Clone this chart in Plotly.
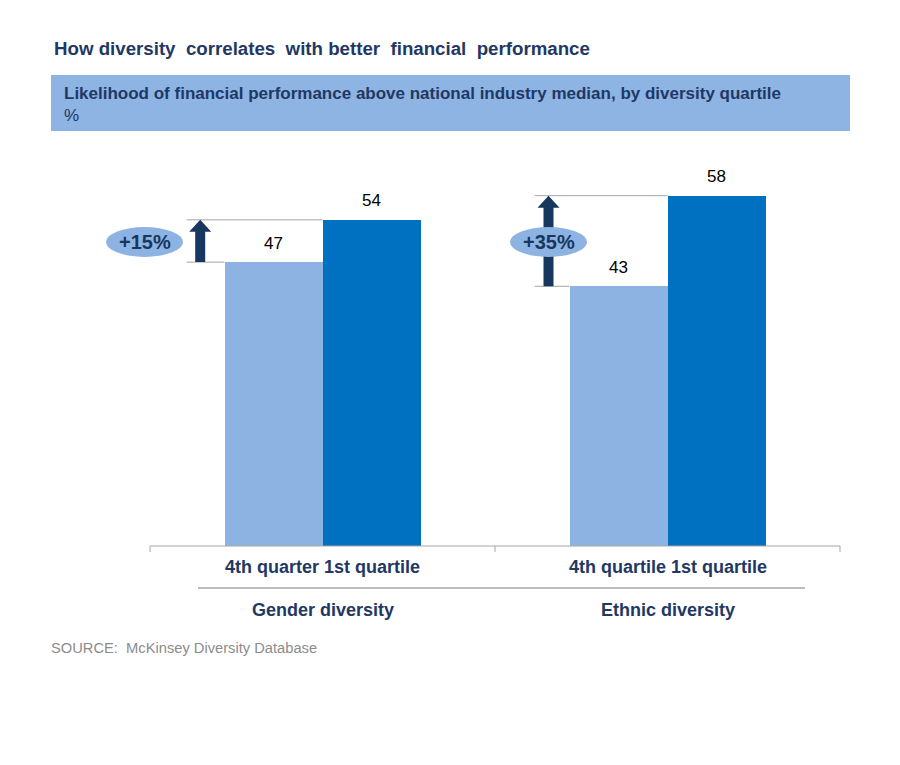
import plotly.graph_objects as go

# ---- data ----
groups = ["Gender diversity", "Ethnic diversity"]
quartile_labels = ["4th quarter 1st quartile", "4th quartile 1st quartile"]
bottom_quartile = [47, 43]
top_quartile = [54, 58]
uplift_labels = ["+15%", "+35%"]

title = "How diversity  correlates  with better  financial  performance"
subtitle_1 = "Likelihood of financial performance above national industry median, by diversity quartile"
subtitle_2 = "%"
source = "SOURCE:  McKinsey Diversity Database"

# ---- styling ----
W, H = 900, 765
LIGHT = "#8DB3E2"
DARK = "#0070C0"
NAVY = "#17375E"
TXT = "#1F3864"
GREY = "#A6A6A6"
FONT = "Liberation Sans, Arial, sans-serif"

# pixel geometry -> axis ranges (x: 0 at px150, 2 at px840; y: 0 at px546)
px_per_x = 345.0
px_per_y = 6.04
x_range = [-150 / px_per_x, (W - 150) / px_per_x]
y_range = [-(H - 546) / px_per_y, 546 / px_per_y]

bw = 98 / px_per_x  # bar width in x units
centers = [0.5 + i for i in range(len(groups))]

fig = go.Figure()
fig.add_trace(go.Bar(x=centers, y=bottom_quartile, width=bw, offset=-bw,
                     marker=dict(color=LIGHT, line=dict(width=0)),
                     name="4th quartile", hoverinfo="y"))
fig.add_trace(go.Bar(x=centers, y=top_quartile, width=bw, offset=0,
                     marker=dict(color=DARK, line=dict(width=0)),
                     name="1st quartile", hoverinfo="y"))

shapes = []
annotations = []

def dx(px):
    return px / px_per_x

def dy(px):
    return px / px_per_y

# axis baseline and ticks
shapes.append(dict(type="line", xref="x", yref="y", x0=0, x1=2, y0=0, y1=0,
                   line=dict(color=GREY, width=1)))
for t in [0, 1, 2]:
    shapes.append(dict(type="line", xref="x", yref="y", x0=t, x1=t, y0=0, y1=-dy(6),
                       line=dict(color=GREY, width=1)))

arrow_off = [dx(200.7 - 323), dx(549 - 668)]
ell_off = [dx(145 - 323), dx(549 - 668)]
line_left = [dx(187 - 323), dx(535 - 668)]

for i, c in enumerate(centers):
    lo, hi = bottom_quartile[i], top_quartile[i]
    # bracket lines
    shapes.append(dict(type="line", xref="x", yref="y", x0=c + line_left[i], x1=c,
                       y0=hi, y1=hi, line=dict(color=GREY, width=1)))
    shapes.append(dict(type="line", xref="x", yref="y", x0=c + line_left[i], x1=c - bw,
                       y0=lo, y1=lo, line=dict(color=GREY, width=1)))
    # arrow
    ax = c + arrow_off[i]
    sw = dx(5)
    hw = dx(11)
    hh = dy(12)
    path = (f"M {ax - sw},{lo} L {ax + sw},{lo} L {ax + sw},{hi - hh} L {ax + hw},{hi - hh} "
            f"L {ax},{hi} L {ax - hw},{hi - hh} L {ax - sw},{hi - hh} Z")
    shapes.append(dict(type="path", xref="x", yref="y", path=path,
                       fillcolor=NAVY, line=dict(width=0)))
    # ellipse
    ex = c + ell_off[i]
    ey = dy(546 - 242)
    shapes.append(dict(type="circle", xref="x", yref="y",
                       x0=ex - dx(38.5), x1=ex + dx(38.5),
                       y0=ey - dy(15), y1=ey + dy(15),
                       fillcolor=LIGHT, line=dict(width=0)))
    annotations.append(dict(x=ex, y=ey, xref="x", yref="y", text=f"<b>{uplift_labels[i]}</b>",
                            showarrow=False, font=dict(family=FONT, size=20, color=NAVY)))
    # value labels
    annotations.append(dict(x=c - bw / 2, y=lo, xref="x", yref="y", text=str(lo),
                            showarrow=False, yshift=19, font=dict(family=FONT, size=17, color="#000000")))
    annotations.append(dict(x=c + bw / 2, y=hi, xref="x", yref="y", text=str(hi),
                            showarrow=False, yshift=19, font=dict(family=FONT, size=17, color="#000000")))
    # category labels
    annotations.append(dict(x=c, y=-dy(567 - 546), xref="x", yref="y",
                            text=f"<b>{quartile_labels[i]}</b>", showarrow=False,
                            font=dict(family=FONT, size=18, color=TXT)))
    annotations.append(dict(x=c, y=-dy(610 - 546), xref="x", yref="y",
                            text=f"<b>{groups[i]}</b>", showarrow=False,
                            font=dict(family=FONT, size=18, color=TXT)))

# separator line under quartile labels
shapes.append(dict(type="line", xref="paper", yref="paper", x0=198 / W, x1=805 / W,
                   y0=1 - 588 / H, y1=1 - 588 / H, line=dict(color=GREY, width=1.5)))

# header box
shapes.append(dict(type="rect", xref="paper", yref="paper", x0=51 / W, x1=850 / W,
                   y0=1 - 131 / H, y1=1 - 75 / H, fillcolor="#8EB4E3", line=dict(width=0),
                   layer="below"))

annotations.append(dict(x=52 / W, y=1 - 48 / H, xref="paper", yref="paper", xanchor="left",
                        yanchor="middle", text=f"<b>{title}</b>", showarrow=False,
                        font=dict(family=FONT, size=18.7, color=TXT)))
annotations.append(dict(x=62 / W, y=1 - 93 / H, xref="paper", yref="paper", xanchor="left",
                        yanchor="middle", text=f"<b>{subtitle_1}</b>", showarrow=False,
                        font=dict(family=FONT, size=17, color=TXT)))
annotations.append(dict(x=62 / W, y=1 - 115 / H, xref="paper", yref="paper", xanchor="left",
                        yanchor="middle", text=subtitle_2, showarrow=False,
                        font=dict(family=FONT, size=17, color=TXT)))
annotations.append(dict(x=49 / W, y=1 - 648 / H, xref="paper", yref="paper", xanchor="left",
                        yanchor="middle", text=source, showarrow=False,
                        font=dict(family=FONT, size=14.7, color="#8C8C8C")))

fig.update_layout(
    width=W, height=H,
    margin=dict(l=0, r=0, t=0, b=0),
    paper_bgcolor="white", plot_bgcolor="white",
    showlegend=False,
    xaxis=dict(range=x_range, visible=False, fixedrange=True),
    yaxis=dict(range=y_range, visible=False, fixedrange=True),
    shapes=shapes, annotations=annotations,
    bargap=0,
)

fig.write_html("out.html", config={"displayModeBar": False},
               post_script="document.body.style.margin='0';")
